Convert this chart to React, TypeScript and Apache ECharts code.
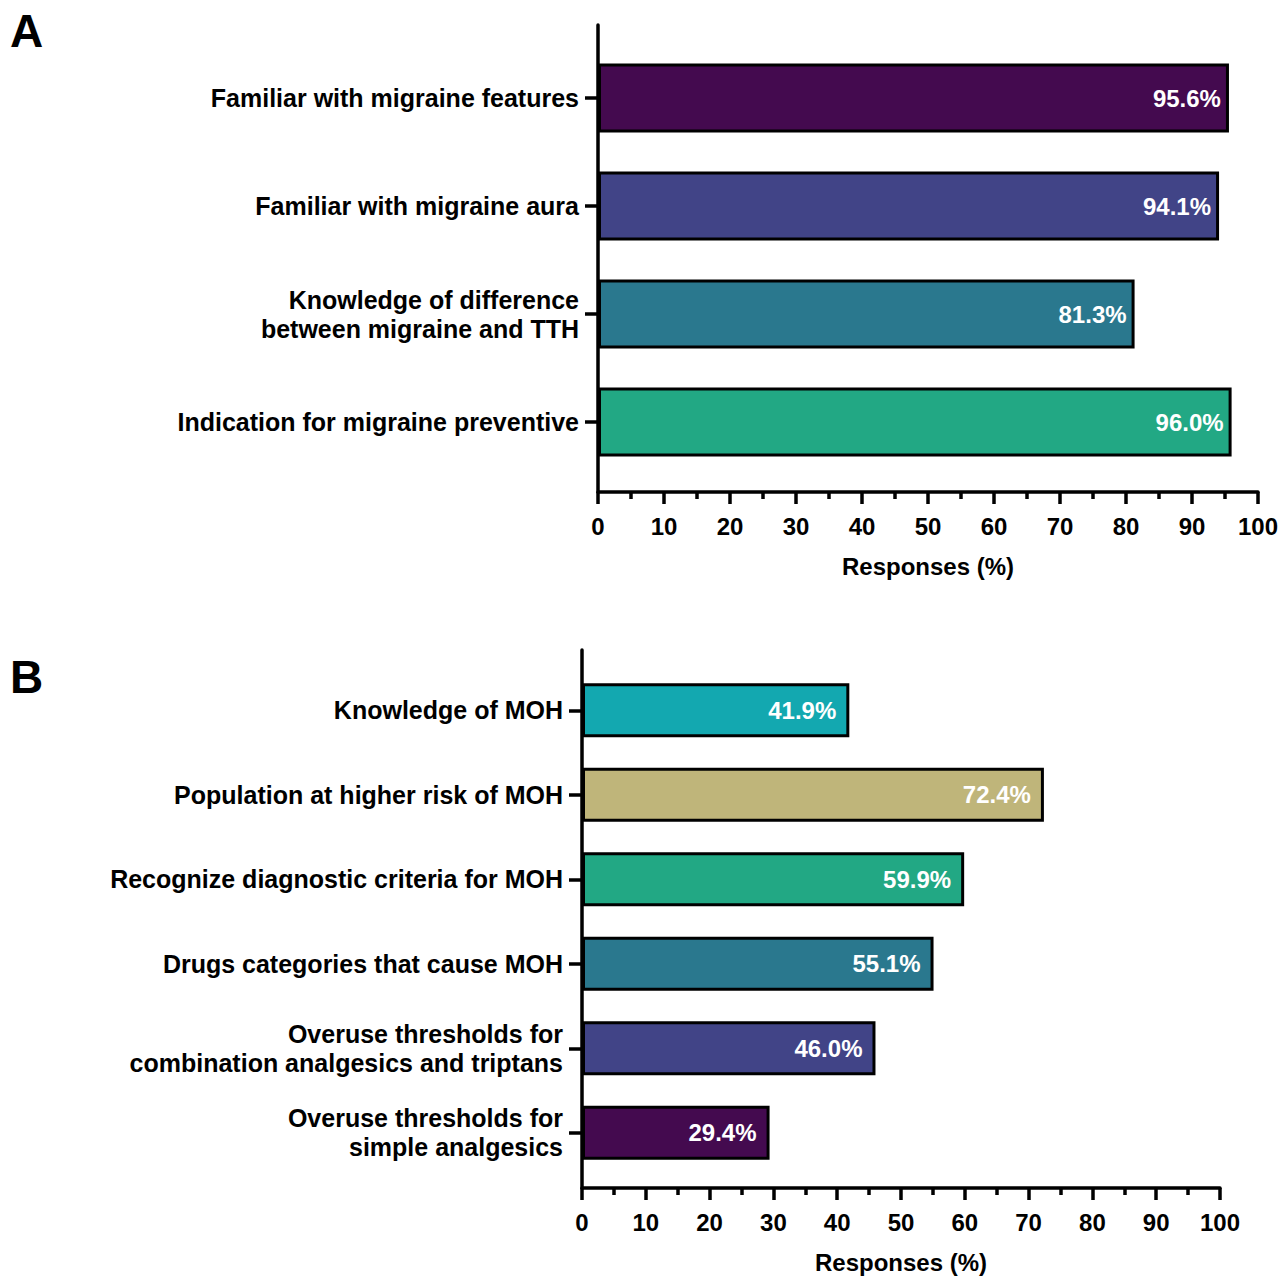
import React, { useEffect, useRef } from "react";
import * as echarts from "echarts";

const catsA = [
  "Familiar with migraine features",
  "Familiar with migraine aura",
  "Knowledge of difference\nbetween migraine and TTH",
  "Indication for migraine preventive",
];
const valsA = [95.6, 94.1, 81.3, 96.0];
const colorsA = ["#440a4f", "#414487", "#2a788e", "#22a884"];

const catsB = [
  "Knowledge of MOH",
  "Population at higher risk of MOH",
  "Recognize diagnostic criteria for MOH",
  "Drugs categories that cause MOH",
  "Overuse thresholds for\ncombination analgesics and triptans",
  "Overuse thresholds for\nsimple analgesics",
];
const valsB = [41.9, 72.4, 59.9, 55.1, 46.0, 29.4];
const colorsB = ["#13a8b0", "#bfb57a", "#22a884", "#2a788e", "#414487", "#440a4f"];

const xTitle = "Responses (%)";
const FONT = "Liberation Sans, Arial, sans-serif";

export default function App() {
  const ref = useRef<HTMLDivElement>(null);
  useEffect(() => {
    if (!ref.current) return;
    const chart = echarts.init(ref.current, undefined, { renderer: "svg" });
    const W = 1288;
    const label = (distance: number) => ({
      show: true,
      position: "insideRight",
      distance,
      color: "#ffffff",
      fontWeight: "bold",
      fontSize: 24,
      fontFamily: FONT,
      formatter: (p: any) => Number(p.value).toFixed(1) + "%",
    });
    const hiddenX = (grid: number) => ({
      type: "value", gridIndex: grid, min: 0, max: 100, show: false,
    });
    const shownX = (grid: number) => ({
      type: "value",
      gridIndex: grid,
      min: 0,
      max: 100,
      interval: 10,
      axisLine: { show: true, lineStyle: { color: "#000", width: 3.5 } },
      axisTick: { show: true, length: 12, lineStyle: { color: "#000", width: 3.5 } },
      minorTick: { show: true, splitNumber: 2, length: 7, lineStyle: { color: "#000", width: 3.5 } },
      splitLine: { show: false },
      axisLabel: { color: "#000", fontWeight: "bold", fontSize: 24, fontFamily: FONT, margin: 22 },
      name: xTitle,
      nameLocation: "middle",
      nameGap: 62,
      nameTextStyle: { color: "#000", fontWeight: "bold", fontSize: 24, fontFamily: FONT },
    });
    const catY = (grid: number, data: string[]) => ({
      type: "category",
      gridIndex: grid,
      data,
      inverse: true,
      axisLine: { show: false },
      axisTick: { show: true, alignWithLabel: true, length: 13, lineStyle: { color: "#000", width: 3.5 } },
      axisLabel: {
        color: "#000", fontWeight: "bold", fontSize: 25, fontFamily: FONT, margin: 19,
        align: "right", lineHeight: 29,
      },
    });
    const lineY = (grid: number) => ({
      type: "value",
      gridIndex: grid,
      min: 0,
      max: 1,
      axisLine: { show: true, lineStyle: { color: "#000", width: 3.5 } },
      axisTick: { show: false },
      axisLabel: { show: false },
      splitLine: { show: false },
    });
    chart.setOption({
      animation: false,
      backgroundColor: "#ffffff",
      grid: [
        { left: 598, right: W - 1258, top: 44, height: 432 },
        { left: 598, right: W - 1258, top: 25, height: 467 },
        { left: 582, right: W - 1220, top: 668, height: 507 },
        { left: 582, right: W - 1220, top: 650, height: 538 },
      ],
      xAxis: [hiddenX(0), shownX(1), hiddenX(2), shownX(3)],
      yAxis: [catY(0, catsA), lineY(1), catY(2, catsB), lineY(3)],
      graphic: [
        { type: "text", left: 10, top: 8, style: { text: "A", fontSize: 46, fontWeight: "bold", fontFamily: FONT, fill: "#000" } },
        { type: "text", left: 10, top: 654, style: { text: "B", fontSize: 46, fontWeight: "bold", fontFamily: FONT, fill: "#000" } },
      ],
      series: [
        {
          type: "bar",
          xAxisIndex: 0,
          yAxisIndex: 0,
          barWidth: 69,
          data: valsA.map((v, i) => ({ value: v, itemStyle: { color: colorsA[i] } })),
          itemStyle: { borderColor: "#000", borderWidth: 3 },
          label: label(8),
        },
        {
          type: "bar",
          xAxisIndex: 2,
          yAxisIndex: 2,
          barWidth: 54,
          data: valsB.map((v, i) => ({ value: v, itemStyle: { color: colorsB[i] } })),
          itemStyle: { borderColor: "#000", borderWidth: 3 },
          label: label(13),
        },
      ],
    });
    return () => chart.dispose();
  }, []);
  return (
    <div
      ref={ref}
      style={{ position: "absolute", left: 0, top: 0, width: 1288, height: 1278, background: "#fff" }}
    />
  );
}
